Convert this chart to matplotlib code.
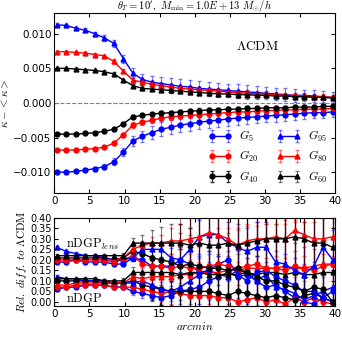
import matplotlib
matplotlib.use('Agg')
import matplotlib.pyplot as plt
import numpy as np

plt.rcParams['mathtext.fontset'] = 'cm'
plt.rcParams['xtick.direction'] = 'in'
plt.rcParams['ytick.direction'] = 'in'
plt.rcParams['xtick.top'] = True
plt.rcParams['ytick.right'] = True

x = [0.34, 1.70, 3.05, 4.41, 5.76, 7.12, 8.47, 9.83, 11.18, 12.54,
     13.89, 15.25, 16.60, 17.96, 19.31, 20.67, 22.02, 23.38, 24.73, 26.09,
     27.44, 28.80, 30.15, 31.51, 32.86, 34.22, 35.57, 36.93, 38.28, 39.64]

labels = ['G5', 'G20', 'G40', 'G95', 'G80', 'G60']

# kappa - <kappa>, LCDM
kap_G5 = [-0.0100, -0.0100, -0.0099, -0.0097, -0.0095, -0.0092, -0.0085, -0.0071, -0.0055, -0.0048,
          -0.0043, -0.0038, -0.0035, -0.0032, -0.0030, -0.0028, -0.0026, -0.0025, -0.0023, -0.0022,
          -0.0021, -0.0020, -0.0019, -0.0018, -0.0017, -0.0016, -0.0015, -0.0014, -0.0014, -0.0013]
kap_G20 = [-0.0068, -0.0068, -0.0068, -0.0067, -0.0066, -0.0064, -0.0058, -0.0046, -0.0032, -0.0028,
           -0.0025, -0.0022, -0.0020, -0.0019, -0.0018, -0.0017, -0.0016, -0.0015, -0.0014, -0.0013,
           -0.0013, -0.0012, -0.0011, -0.0011, -0.0010, -0.0010, -0.0009, -0.0009, -0.0009, -0.0008]
kap_G40 = [-0.0045, -0.0045, -0.0045, -0.0044, -0.0043, -0.0041, -0.0038, -0.0030, -0.0020, -0.0018,
           -0.0016, -0.0015, -0.0014, -0.0013, -0.0012, -0.0011, -0.0010, -0.0010, -0.0009, -0.0009,
           -0.0008, -0.0008, -0.0007, -0.0007, -0.0007, -0.0006, -0.0006, -0.0006, -0.0005, -0.0005]
kap_G95 = [0.0113, 0.0112, 0.0108, 0.0105, 0.0100, 0.0094, 0.0086, 0.0064, 0.0043, 0.0034,
           0.0030, 0.0028, 0.0026, 0.0024, 0.0023, 0.0021, 0.0020, 0.0019, 0.0018, 0.0017,
           0.0016, 0.0015, 0.0014, 0.0013, 0.0012, 0.0011, 0.0011, 0.0010, 0.0009, 0.0008]
kap_G80 = [0.0074, 0.0074, 0.0073, 0.0072, 0.0070, 0.0068, 0.0060, 0.0046, 0.0033, 0.0030,
           0.0027, 0.0025, 0.0023, 0.0021, 0.0020, 0.0019, 0.0018, 0.0017, 0.0016, 0.0015,
           0.0014, 0.0013, 0.0013, 0.0012, 0.0011, 0.0011, 0.0010, 0.0009, 0.0009, 0.0008]
kap_G60 = [0.0050, 0.0050, 0.0049, 0.0048, 0.0047, 0.0045, 0.0042, 0.0033, 0.0025, 0.0021,
           0.0020, 0.0019, 0.0018, 0.0017, 0.0016, 0.0015, 0.0014, 0.0013, 0.0013, 0.0012,
           0.0012, 0.0011, 0.0011, 0.0010, 0.0010, 0.0009, 0.0009, 0.0008, 0.0008, 0.0007]

err_blue_top = [0.0002, 0.0002, 0.0002, 0.0003, 0.0003, 0.0004, 0.0005, 0.0006, 0.0007, 0.0008,
                0.0009, 0.0010, 0.0010, 0.0010, 0.0010, 0.0010, 0.0010, 0.0010, 0.0010, 0.0010,
                0.0010, 0.0009, 0.0009, 0.0009, 0.0009, 0.0009, 0.0008, 0.0008, 0.0008, 0.0008]
err_red_top = [0.0001, 0.0001, 0.0001, 0.0002, 0.0002, 0.0002, 0.0003, 0.0003, 0.0004, 0.0004,
               0.0004, 0.0004, 0.0004, 0.0004, 0.0004, 0.0004, 0.0004, 0.0004, 0.0004, 0.0004,
               0.0004, 0.0004, 0.0004, 0.0004, 0.0004, 0.0004, 0.0004, 0.0004, 0.0004, 0.0004]
err_black_top = [0.0001, 0.0001, 0.0001, 0.0001, 0.0001, 0.0002, 0.0002, 0.0002, 0.0002, 0.0002,
                 0.0002, 0.0003, 0.0003, 0.0003, 0.0003, 0.0003, 0.0003, 0.0003, 0.0003, 0.0003,
                 0.0003, 0.0003, 0.0003, 0.0003, 0.0003, 0.0003, 0.0003, 0.0003, 0.0003, 0.0003]

# relative difference to LCDM: nDGP (lower group) and nDGP_lens (upper group)
nd_G5 = [0.06, 0.07, 0.07, 0.08, 0.08, 0.08, 0.07, 0.07, 0.05, 0.04, 0.03, 0.02, 0.03, 0.05, 0.06,
         0.07, 0.10, 0.12, 0.14, 0.12, 0.13, 0.10, 0.07, 0.08, 0.05, 0.02, 0.00, -0.01, 0.02, 0.05]
nd_G20 = [0.07, 0.07, 0.08, 0.08, 0.08, 0.08, 0.07, 0.07, 0.07, 0.06, 0.05, 0.04, 0.05, 0.04, 0.03,
          0.03, 0.03, 0.02, 0.02, 0.00, 0.01, 0.02, 0.00, 0.01, -0.01, 0.02, 0.00, 0.02, 0.00, -0.01]
nd_G40 = [0.10, 0.10, 0.10, 0.10, 0.10, 0.09, 0.09, 0.09, 0.10, 0.08, 0.07, 0.06, 0.05, 0.05, 0.05,
          0.05, 0.05, 0.04, 0.03, 0.05, 0.04, 0.03, 0.02, 0.03, 0.02, 0.01, 0.03, 0.04, 0.02, 0.00]
nd_G95 = [0.12, 0.11, 0.11, 0.10, 0.10, 0.10, 0.09, 0.09, 0.09, 0.10, 0.08, 0.06, 0.05, 0.07, 0.10,
          0.13, 0.15, 0.13, 0.12, 0.15, 0.14, 0.10, 0.13, 0.07, 0.06, 0.04, 0.01, 0.03, 0.05, 0.07]
nd_G80 = [0.08, 0.08, 0.09, 0.09, 0.09, 0.09, 0.09, 0.09, 0.12, 0.11, 0.12, 0.12, 0.12, 0.13, 0.13,
          0.14, 0.14, 0.14, 0.15, 0.15, 0.16, 0.16, 0.16, 0.16, 0.17, 0.16, 0.16, 0.17, 0.18, 0.18]
nd_G60 = [0.11, 0.11, 0.11, 0.11, 0.11, 0.10, 0.10, 0.10, 0.14, 0.14, 0.14, 0.14, 0.14, 0.13, 0.14,
          0.14, 0.13, 0.13, 0.13, 0.13, 0.14, 0.13, 0.14, 0.14, 0.13, 0.14, 0.13, 0.13, 0.14, 0.14]

ndl_G5 = [0.19, 0.19, 0.20, 0.19, 0.19, 0.19, 0.18, 0.18, 0.21, 0.20, 0.17, 0.17, 0.17, 0.20, 0.18,
          0.14, 0.15, 0.18, 0.20, 0.13, 0.10, 0.14, 0.15, 0.12, 0.10, 0.08, 0.05, 0.05, 0.02, 0.00]
ndl_G20 = [0.20, 0.20, 0.20, 0.20, 0.20, 0.20, 0.19, 0.20, 0.22, 0.18, 0.17, 0.17, 0.16, 0.17, 0.16,
           0.16, 0.17, 0.18, 0.17, 0.16, 0.17, 0.18, 0.16, 0.16, 0.15, 0.17, 0.16, 0.15, 0.17, 0.18]
ndl_G40 = [0.21, 0.21, 0.21, 0.21, 0.21, 0.21, 0.20, 0.21, 0.24, 0.23, 0.21, 0.20, 0.19, 0.17, 0.18,
           0.17, 0.16, 0.16, 0.15, 0.16, 0.14, 0.12, 0.10, 0.10, 0.08, 0.07, 0.05, 0.07, 0.06, 0.00]
ndl_G95 = [0.26, 0.24, 0.23, 0.22, 0.22, 0.21, 0.20, 0.20, 0.21, 0.25, 0.25, 0.25, 0.21, 0.20, 0.25,
           0.31, 0.32, 0.32, 0.28, 0.26, 0.24, 0.26, 0.26, 0.19, 0.18, 0.15, 0.13, 0.17, 0.26, 0.20]
ndl_G80 = [0.21, 0.21, 0.21, 0.21, 0.21, 0.20, 0.20, 0.21, 0.25, 0.27, 0.28, 0.28, 0.29, 0.29, 0.30,
           0.31, 0.33, 0.32, 0.30, 0.27, 0.29, 0.30, 0.30, 0.31, 0.30, 0.34, 0.32, 0.30, 0.30, 0.31]
ndl_G60 = [0.22, 0.22, 0.22, 0.22, 0.22, 0.22, 0.22, 0.22, 0.28, 0.28, 0.28, 0.28, 0.28, 0.28, 0.27,
           0.28, 0.27, 0.27, 0.28, 0.27, 0.28, 0.29, 0.30, 0.30, 0.30, 0.31, 0.30, 0.28, 0.28, 0.26]

err_blue_bot = [0.006, 0.006, 0.006, 0.007, 0.007, 0.008, 0.009, 0.010, 0.015, 0.020, 0.025, 0.035, 0.045, 0.06, 0.07,
                0.08, 0.09, 0.10, 0.10, 0.11, 0.11, 0.12, 0.12, 0.12, 0.13, 0.13, 0.13, 0.14, 0.14, 0.14]
err_red_bot = [0.006, 0.006, 0.006, 0.007, 0.007, 0.008, 0.009, 0.010, 0.015, 0.020, 0.03, 0.04, 0.06, 0.08, 0.10,
               0.12, 0.15, 0.17, 0.18, 0.19, 0.20, 0.20, 0.21, 0.21, 0.22, 0.22, 0.22, 0.23, 0.23, 0.23]
err_black_bot = [0.006, 0.006, 0.006, 0.007, 0.008, 0.009, 0.010, 0.012, 0.025, 0.04, 0.06, 0.075, 0.09, 0.2, 0.3,
                 0.35, 0.4, 0.45, 0.5, 0.5, 0.55, 0.55, 0.6, 0.6, 0.6, 0.65, 0.65, 0.65, 0.7, 0.7]

top_vals = [kap_G5, kap_G20, kap_G40, kap_G95, kap_G80, kap_G60]
nd_vals = [nd_G5, nd_G20, nd_G40, nd_G95, nd_G80, nd_G60]
ndl_vals = [ndl_G5, ndl_G20, ndl_G40, ndl_G95, ndl_G80, ndl_G60]
top_errs = [err_blue_top, err_red_top, err_black_top, err_blue_top, err_red_top, err_black_top]
bot_errs = [err_blue_bot, err_red_bot, err_black_bot, err_blue_bot, err_red_bot, err_black_bot]
colors = ['b', 'r', 'k', 'b', 'r', 'k']
markers = ['o', 'o', 'o', '^', '^', '^']
ealpha = [0.5, 0.5, 0.8, 0.5, 0.5, 0.5]

fig = plt.figure(figsize=(3.42, 3.42), dpi=100)
ax1 = fig.add_axes([0.159, 0.436, 0.821, 0.526])
ax2 = fig.add_axes([0.159, 0.105, 0.821, 0.258])

handles = []
for i in range(6):
    h = ax1.errorbar(x, top_vals[i], yerr=top_errs[i], color=colors[i], marker=markers[i],
                     markersize=3.5, lw=1, capsize=1.5, elinewidth=0.8, ecolor=colors[i],
                     label='$G_{%s}$' % labels[i][1:])
    h[2][0].set_alpha(ealpha[i])
    for c in h[1]:
        c.set_alpha(ealpha[i])
    handles.append(h)
ax1.axhline(0, color='gray', ls='--', lw=0.8)
ax1.set_xlim(0, 40)
ax1.set_ylim(-0.013, 0.013)
ax1.set_yticks([-0.010, -0.005, 0.0, 0.005, 0.010])
ax1.tick_params(labelsize=7.5, pad=2, length=3)
ax1.set_ylabel(r'$\kappa-<\kappa>$', fontsize=8, labelpad=2)
fig.text(0.568, 1 - 9.5 / 342, r"$\theta_T=10',\ M_{\rm min}=1.0E+13\ M_{\odot}/h$",
         fontsize=7.6, ha='center', va='baseline')
ax1.text(25.9, 0.0077, r'$\Lambda\mathrm{CDM}$', fontsize=9.6)
ax1.legend(handles=handles, loc='lower right', ncol=2, frameon=False, fontsize=8.5, numpoints=2,
           handlelength=2.0, handletextpad=0.6, columnspacing=1.6, labelspacing=0.45,
           borderaxespad=0.3)

for group in [nd_vals, ndl_vals]:
    for i in range(6):
        h = ax2.errorbar(x, group[i], yerr=bot_errs[i], color=colors[i], marker=markers[i],
                         markersize=3.5, lw=1, capsize=1.5, elinewidth=0.8, ecolor=colors[i])
        h[2][0].set_alpha(ealpha[i])
        for c in h[1]:
            c.set_alpha(ealpha[i])
ax2.set_xlim(0, 40)
ax2.set_ylim(-0.02, 0.40)
ax2.set_yticks(np.arange(0, 0.41, 0.05))
ax2.tick_params(labelsize=7.5, pad=2, length=3)
ax2.tick_params(axis='y', labelsize=7)
ax2.set_xlabel(r'$arcmin$', fontsize=8, labelpad=1)
ax2.set_ylabel(r'$Rel.\ diff.\ to\ \Lambda\mathrm{CDM}$', fontsize=8, labelpad=1)
ax2.text(1.6, 0.255, r'$\mathrm{nDGP}_{lens}$', fontsize=9)
ax2.text(1.6, 0.0, r'$\mathrm{nDGP}$', fontsize=9)

fig.savefig('out.png', dpi=100)
